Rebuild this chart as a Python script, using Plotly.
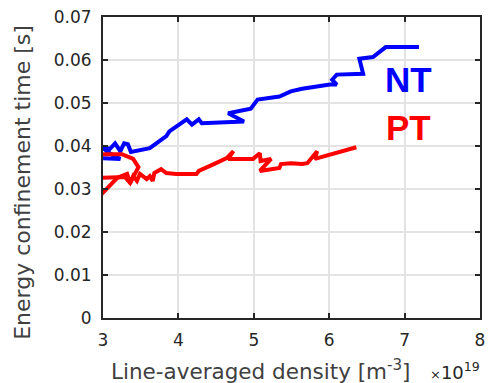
import plotly.graph_objects as go

# NT (blue) trace: line-averaged density [1e19 m^-3], confinement time [s]
nt_density = [2.96, 3.23, 3.09, 2.96, 3.09, 3.16, 3.23, 3.28, 3.33, 3.37, 3.62, 3.84, 3.88,
              4.08, 4.11, 4.18, 4.27, 4.31, 4.87, 4.66, 4.96, 5.05, 5.34, 5.49, 5.64,
              6.01, 6.10, 6.04, 6.10, 6.45, 6.40, 6.58, 6.75, 7.19]
nt_tau = [0.0372, 0.0370, 0.0383, 0.0400, 0.0393, 0.0406, 0.0388, 0.0406, 0.0404, 0.0386,
          0.0395, 0.0423, 0.0434, 0.0457, 0.0462, 0.0450, 0.0462, 0.0453, 0.0457, 0.0476,
          0.0487, 0.0508, 0.0515, 0.0527, 0.0533, 0.0543, 0.0543, 0.0554, 0.0566, 0.0568,
          0.0603, 0.0607, 0.0630, 0.0630]

# PT (red) trace; None separates the two pieces of the trace
pt_density = [2.96, 3.25, 3.40, 3.47, 3.36, 3.29, 2.96, None,
              2.96, 3.19, 3.32, 3.36, 3.40, 3.45, 3.49, 3.58, 3.62, 3.66, 3.68, 3.77,
              3.84, 3.97, 4.24, 4.27, 4.47, 4.64, 4.73, 4.66, 4.99, 5.08, 5.09, 5.23,
              5.08, 5.34, 5.36, 5.49, 5.64, 5.71, 5.84, 5.81, 6.36]
pt_tau = [0.0381, 0.0381, 0.0370, 0.0351, 0.0314, 0.0328, 0.0326, None,
          0.0284, 0.0326, 0.0335, 0.0314, 0.0330, 0.0319, 0.0335, 0.0323, 0.0330, 0.0319,
          0.0337, 0.0346, 0.0337, 0.0335, 0.0335, 0.0342, 0.0358, 0.0372, 0.0388, 0.0370,
          0.0370, 0.0383, 0.0365, 0.0370, 0.0342, 0.0349, 0.0358, 0.0360, 0.0358, 0.0360,
          0.0388, 0.0370, 0.0397]

x_ticks = [3, 4, 5, 6, 7, 8]
y_ticks = [0, 0.01, 0.02, 0.03, 0.04, 0.05, 0.06, 0.07]
y_ticktext = ["0", "0.01", "0.02", "0.03", "0.04", "0.05", "0.06", "0.07"]

FONT = "DejaVu Sans"
AX = "#262626"

fig = go.Figure()
fig.add_trace(go.Scatter(x=nt_density, y=nt_tau, mode="lines",
                         line=dict(color="#0000ff", width=4), connectgaps=False))
fig.add_trace(go.Scatter(x=pt_density, y=pt_tau, mode="lines",
                         line=dict(color="#ff0000", width=4), connectgaps=False))

axis_common = dict(showline=True, linecolor=AX, linewidth=2, mirror="allticks",
                   ticks="inside", ticklen=5, tickwidth=2, tickcolor=AX,
                   showgrid=True, gridcolor="#e3e3e3", gridwidth=2, zeroline=False,
                   tickfont=dict(family=FONT, size=17, color=AX))

fig.update_xaxes(range=[3, 8], tickvals=x_ticks, ticktext=[str(v) for v in x_ticks],
                 ticklabelstandoff=6, **axis_common)
fig.update_yaxes(range=[0, 0.07], tickvals=y_ticks, ticktext=y_ticktext,
                 ticklabelstandoff=6, **axis_common)

fig.add_annotation(text="Energy confinement time [s]", xref="paper", yref="paper",
                   x=-0.214, y=0.45, textangle=-90, showarrow=False,
                   xanchor="center", yanchor="middle",
                   font=dict(family=FONT, size=22, color="#404040"))
fig.add_annotation(text="Line-averaged density [m<sup>-3</sup>]", xref="paper", yref="paper",
                   x=0.418, y=-0.172, showarrow=False, xanchor="center", yanchor="middle",
                   font=dict(family=FONT, size=21.5, color="#404040"))
fig.add_annotation(text="<span style='font-size:13px'>×</span>10<sup>19</sup>",
                   xref="paper", yref="paper",
                   x=0.862, y=-0.176, showarrow=False, xanchor="left", yanchor="middle",
                   font=dict(family=FONT, size=18, color=AX))
fig.add_annotation(text="<b>NT</b>", xref="paper", yref="paper", x=0.81, y=0.792,
                   showarrow=False, xanchor="center", yanchor="middle",
                   font=dict(family="Liberation Sans", size=35, color="#0000ff"))
fig.add_annotation(text="<b>PT</b>", xref="paper", yref="paper", x=0.81, y=0.634,
                   showarrow=False, xanchor="center", yanchor="middle",
                   font=dict(family="Liberation Sans", size=35, color="#ff0000"))

fig.update_layout(width=492, height=383, margin=dict(l=103, r=7, t=15, b=65),
                  paper_bgcolor="white", plot_bgcolor="white", showlegend=False)

fig.write_html("out.html")
